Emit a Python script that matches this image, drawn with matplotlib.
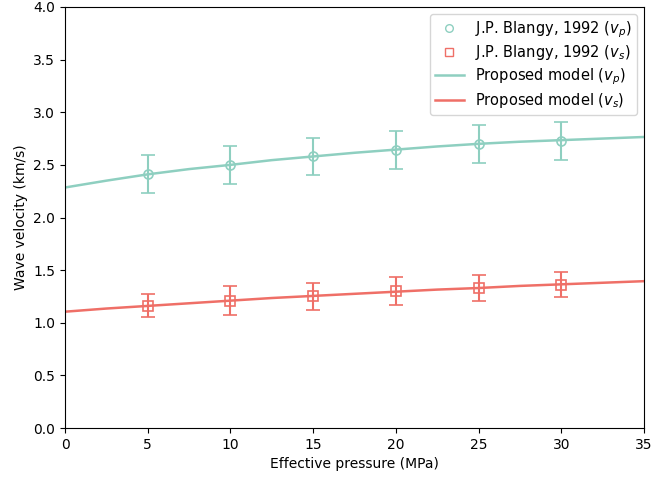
import matplotlib
matplotlib.use("Agg")
import matplotlib.pyplot as plt
from matplotlib.lines import Line2D
import numpy as np

# measured data (J.P. Blangy, 1992)
pressure = [5, 10, 15, 20, 25, 30]
vp_meas = [2.41, 2.50, 2.58, 2.64, 2.70, 2.73]
vp_err = [0.18, 0.18, 0.18, 0.18, 0.18, 0.18]
vs_meas = [1.16, 1.21, 1.25, 1.30, 1.33, 1.36]
vs_err = [0.11, 0.135, 0.13, 0.13, 0.125, 0.12]

# proposed model curves
model_p = [0, 2.5, 5, 7.5, 10, 12.5, 15, 17.5, 20, 22.5, 25, 27.5, 30, 32.5, 35]
vp_model = [2.285, 2.35, 2.41, 2.46, 2.50, 2.545, 2.58, 2.615, 2.645, 2.675, 2.70, 2.72, 2.735, 2.75, 2.765]
vs_model = [1.105, 1.135, 1.16, 1.185, 1.21, 1.235, 1.255, 1.275, 1.295, 1.315, 1.33, 1.35, 1.365, 1.38, 1.395]

labels = ["J.P. Blangy, 1992 ($v_p$)", "J.P. Blangy, 1992 ($v_s$)",
          "Proposed model ($v_p$)", "Proposed model ($v_s$)"]

c_p = "#8ecfc0"
c_s = "#ef6f67"

fig = plt.figure(figsize=(6.52, 4.8), dpi=100)
ax = fig.add_axes([65 / 652, 52 / 480, 579 / 652, 421 / 480])

ax.errorbar(pressure, vp_meas, yerr=vp_err, fmt="o", mfc="none", mec=c_p, ecolor=c_p,
            ms=6.5, capsize=5, elinewidth=1.5, capthick=1.5, mew=1.2)
ax.errorbar(pressure, vs_meas, yerr=vs_err, fmt="s", mfc="none", mec=c_s, ecolor=c_s,
            ms=6.5, capsize=5, elinewidth=1.5, capthick=1.5, mew=1.2)
ax.plot(model_p, vp_model, color=c_p, lw=1.8)
ax.plot(model_p, vs_model, color=c_s, lw=1.8)

ax.set_xlim(0, 35)
ax.set_ylim(0, 4)
ax.set_yticks(np.arange(0, 4.01, 0.5))
ax.set_xlabel("Effective pressure (MPa)")
ax.set_ylabel("Wave velocity (km/s)")

# legend markers without error bars
leg_handles = [
    Line2D([], [], ls="none", marker="o", mfc="none", mec=c_p, ms=5.5),
    Line2D([], [], ls="none", marker="s", mfc="none", mec=c_s, ms=5.5),
    Line2D([], [], color=c_p, lw=1.8),
    Line2D([], [], color=c_s, lw=1.8),
]
ax.legend(leg_handles, labels, loc="upper right", fontsize=10.5,
          labelspacing=0.27, borderpad=0.32)

fig.savefig("out.png", dpi=100)
